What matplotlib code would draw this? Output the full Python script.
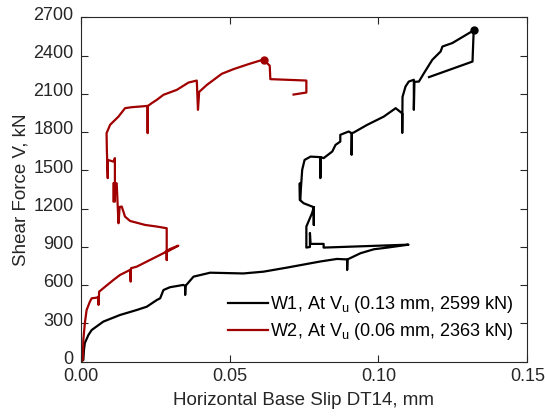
import matplotlib.pyplot as plt
from matplotlib.transforms import ScaledTranslation

plt.rcParams['font.family'] = ['Liberation Sans', 'DejaVu Sans']
plt.rcParams['mathtext.fontset'] = 'custom'
plt.rcParams['mathtext.rm'] = 'Liberation Sans'

# W1 slip (mm) and shear (kN)
w1_slip = [0, 0.0009, 0.0011, 0.0014, 0.0026, 0.0037, 0.0076, 0.0132, 0.0188, 0.0222,
           0.0256, 0.0267, 0.0278, 0.0300, 0.0345, 0.0351, 0.0351, 0.0352, 0.0379, 0.0435,
           0.0546, 0.0614, 0.0693, 0.0805, 0.0861, 0.0895, 0.0895, 0.0896, 0.0940, 0.0985,
           0.1030, 0.1101, 0.0816, 0.0816, 0.0772, 0.0770, 0.0770, 0.0758, 0.0758, 0.0777,
           0.0783, 0.0783, 0.0783, 0.0749, 0.0736, 0.0736, 0.0737, 0.0744, 0.0752, 0.0772,
           0.0805, 0.0805, 0.0806, 0.0816, 0.0845, 0.0856, 0.0872, 0.0872, 0.0900, 0.0910,
           0.0910, 0.0911, 0.0917, 0.0962, 0.1018, 0.1058, 0.1080, 0.1080, 0.1081, 0.1091,
           0.1102, 0.1119, 0.1119, 0.1121, 0.1136, 0.1153, 0.1181, 0.1209, 0.1215, 0.1248,
           0.132, 0.1316, 0.1170]
w1_shear = [0, 12, 90, 145, 208, 247, 313, 365, 404, 430,
            483, 496, 561, 583, 601, 593, 522, 593, 666, 697,
            691, 705, 737, 785, 805, 801, 718, 801, 850, 881,
            894, 917, 894, 923, 923, 1009, 899, 894, 1059, 1164,
            1211, 1072, 1211, 1242, 1268, 1399, 1268, 1504, 1582, 1608,
            1604, 1439, 1604, 1596, 1648, 1700, 1726, 1779, 1805, 1792,
            1622, 1792, 1797, 1857, 1922, 1988, 1947, 1794, 2077, 2158,
            2197, 2211, 1975, 2195, 2197, 2263, 2368, 2433, 2472, 2499,
            2599, 2354, 2232]

# W2 slip (mm) and shear (kN)
w2_slip = [0, 0.0007, 0.0009, 0.0014, 0.0020, 0.0031, 0.0037, 0.0054, 0.0060, 0.0060,
           0.0062, 0.0076, 0.0110, 0.0132, 0.0166, 0.0168, 0.0169, 0.0188, 0.0233, 0.0278,
           0.0300, 0.0328, 0.0289, 0.0289, 0.0289, 0.0256, 0.0216, 0.0166, 0.0149, 0.0138,
           0.0131, 0.0127, 0.0122, 0.0121, 0.0110, 0.0110, 0.0115, 0.0115, 0.0110, 0.0091,
           0.0091, 0.0088, 0.0087, 0.0099, 0.0127, 0.0149, 0.0172, 0.0200, 0.0224, 0.0225,
           0.0226, 0.0239, 0.0256, 0.0278, 0.0323, 0.0362, 0.0390, 0.0394, 0.0398, 0.0424,
           0.0474, 0.0514, 0.0564, 0.0603, 0.0617, 0.0635, 0.0637, 0.0758, 0.0758, 0.0715]
w2_shear = [0, 12, 169, 300, 404, 470, 496, 501, 507, 444,
            548, 575, 640, 679, 719, 627, 732, 744, 797, 850,
            883, 909, 860, 797, 1046, 1059, 1072, 1103, 1137, 1216,
            1213, 1085, 1347, 1399, 1399, 1255, 1255, 1596, 1569, 1582,
            1439, 1661, 1792, 1858, 1922, 1988, 1996, 2001, 2006, 1792,
            2006, 2028, 2054, 2093, 2132, 2189, 2205, 1975, 2116, 2171,
            2258, 2295, 2334, 2362, 2363, 2321, 2216, 2205, 2111, 2095]

w1_peak = (0.132, 2599)
w2_peak = (0.0617, 2363)
labels = [r'W1, At V$_\mathregular{u}$ (0.13 mm, 2599 kN)',
          r'W2, At V$_\mathregular{u}$ (0.06 mm, 2363 kN)']

red = '#A00000'
fig = plt.figure(figsize=(5.45, 4.16), dpi=100)
ax = fig.add_axes([0.148, 0.131, 0.8195, 0.827])

ax.plot(w1_slip, w1_shear, color='black', lw=1.6, label=labels[0])
ax.plot(w2_slip, w2_shear, color=red, lw=1.6, label=labels[1])
ax.plot(*w1_peak, 'o', color='black', ms=5)
ax.plot(*w2_peak, 'o', color=red, ms=5)

ax.set_xlim(0, 0.15)
ax.set_ylim(0, 2700)
ax.set_xticks([0, 0.05, 0.10, 0.15])
ax.set_xticklabels(['0.00', '0.05', '0.10', '0.15'])
ax.set_yticks(range(0, 2701, 300))
ax.tick_params(direction='in', length=5, width=0.8, top=True, right=True,
               labelsize=13, colors='#262626')
ax.tick_params(axis='x', pad=5)
ax.tick_params(axis='y', pad=5)
# nudge y tick labels up a touch so "0" clears "0.00"
shift = ScaledTranslation(0, 3 / 72, fig.dpi_scale_trans)
for lbl in ax.get_yticklabels():
    lbl.set_transform(lbl.get_transform() + shift)
for s in ax.spines.values():
    s.set_color('#262626')
    s.set_linewidth(0.8)
ax.set_xlabel('Horizontal Base Slip DT14, mm', fontsize=13.5, color='#262626', labelpad=5)
ax.set_ylabel('Shear Force V, kN', fontsize=13.5, color='#262626', labelpad=3)
ax.legend(loc='lower right', bbox_to_anchor=(0.985, 0.035), frameon=False, fontsize=13,
          handlelength=2.2, handletextpad=0.1, borderaxespad=0.0, labelspacing=0.35)

fig.savefig('out.png', dpi=100)
